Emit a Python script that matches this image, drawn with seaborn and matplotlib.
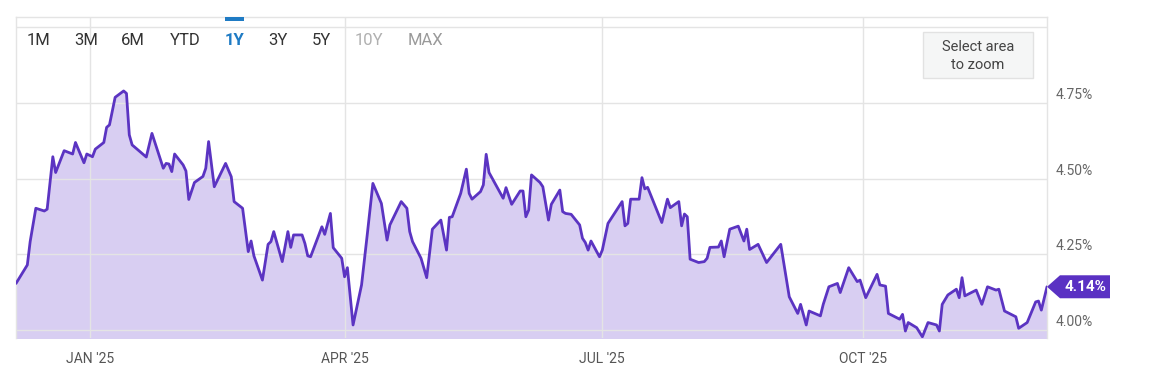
import matplotlib
matplotlib.use("Agg")
import matplotlib.pyplot as plt
import matplotlib.transforms as mtransforms
from matplotlib.patches import Polygon, Rectangle, FancyBboxPatch
import numpy as np
import pandas as pd
import seaborn as sns

# ---------------- data ----------------
dates = [
    "2024-12-06", "2024-12-10", "2024-12-11", "2024-12-13", "2024-12-16", "2024-12-17",
    "2024-12-19", "2024-12-20", "2024-12-23", "2024-12-26", "2024-12-27", "2024-12-30",
    "2024-12-31", "2025-01-02", "2025-01-03", "2025-01-06", "2025-01-07", "2025-01-08",
    "2025-01-10", "2025-01-13", "2025-01-14", "2025-01-15", "2025-01-16", "2025-01-21",
    "2025-01-23", "2025-01-27", "2025-01-28", "2025-01-29", "2025-01-30", "2025-01-31",
    "2025-02-03", "2025-02-04", "2025-02-05", "2025-02-07", "2025-02-10", "2025-02-11",
    "2025-02-12", "2025-02-14", "2025-02-18", "2025-02-20", "2025-02-21", "2025-02-24",
    "2025-02-26", "2025-02-27", "2025-02-28", "2025-03-03", "2025-03-05", "2025-03-06",
    "2025-03-07", "2025-03-10", "2025-03-12", "2025-03-13", "2025-03-14", "2025-03-17",
    "2025-03-18", "2025-03-19", "2025-03-20", "2025-03-24", "2025-03-25", "2025-03-27",
    "2025-03-28", "2025-03-31", "2025-04-01", "2025-04-02", "2025-04-04", "2025-04-07",
    "2025-04-09", "2025-04-11", "2025-04-14", "2025-04-16", "2025-04-17", "2025-04-21",
    "2025-04-23", "2025-04-24", "2025-04-25", "2025-04-28", "2025-04-30", "2025-05-02",
    "2025-05-05", "2025-05-07", "2025-05-08", "2025-05-09", "2025-05-12", "2025-05-14",
    "2025-05-15", "2025-05-16", "2025-05-19", "2025-05-20", "2025-05-21", "2025-05-22",
    "2025-05-27", "2025-05-28", "2025-05-30", "2025-06-02", "2025-06-03", "2025-06-04",
    "2025-06-05", "2025-06-06", "2025-06-09", "2025-06-10", "2025-06-12", "2025-06-13",
    "2025-06-16", "2025-06-17", "2025-06-18", "2025-06-20", "2025-06-23", "2025-06-24",
    "2025-06-25", "2025-06-26", "2025-06-27", "2025-06-30", "2025-07-01", "2025-07-03",
    "2025-07-08", "2025-07-09", "2025-07-10", "2025-07-11", "2025-07-14", "2025-07-15",
    "2025-07-16", "2025-07-17", "2025-07-22", "2025-07-24", "2025-07-25", "2025-07-28",
    "2025-07-29", "2025-07-30", "2025-07-31", "2025-08-01", "2025-08-04", "2025-08-06",
    "2025-08-07", "2025-08-08", "2025-08-11", "2025-08-12", "2025-08-13", "2025-08-15",
    "2025-08-18", "2025-08-20", "2025-08-21", "2025-08-22", "2025-08-25", "2025-08-28",
    "2025-09-02", "2025-09-05", "2025-09-08", "2025-09-09", "2025-09-11", "2025-09-12",
    "2025-09-16", "2025-09-17", "2025-09-19", "2025-09-22", "2025-09-23", "2025-09-26",
    "2025-09-29", "2025-09-30", "2025-10-02", "2025-10-06", "2025-10-07", "2025-10-09",
    "2025-10-10", "2025-10-14", "2025-10-15", "2025-10-16", "2025-10-17", "2025-10-20",
    "2025-10-22", "2025-10-24", "2025-10-27", "2025-10-28", "2025-10-29", "2025-10-31",
    "2025-11-03", "2025-11-04", "2025-11-05", "2025-11-06", "2025-11-10", "2025-11-12",
    "2025-11-14", "2025-11-17", "2025-11-18", "2025-11-20", "2025-11-24", "2025-11-25",
    "2025-11-28", "2025-12-01", "2025-12-02", "2025-12-03", "2025-12-05",
]
yields = [
    4.154, 4.215, 4.292, 4.402, 4.393, 4.399,
    4.572, 4.520, 4.592, 4.581, 4.619, 4.552,
    4.581, 4.572, 4.597, 4.619, 4.669, 4.677,
    4.768, 4.789, 4.781, 4.644, 4.611, 4.571,
    4.649, 4.534, 4.550, 4.548, 4.523, 4.581,
    4.545, 4.525, 4.431, 4.487, 4.507, 4.534,
    4.622, 4.473, 4.550, 4.506, 4.424, 4.402,
    4.259, 4.294, 4.245, 4.165, 4.283, 4.292,
    4.325, 4.226, 4.325, 4.273, 4.314, 4.314,
    4.286, 4.245, 4.242, 4.341, 4.316, 4.385,
    4.272, 4.237, 4.176, 4.206, 4.017, 4.149,
    4.314, 4.484, 4.418, 4.297, 4.347, 4.424,
    4.402, 4.325, 4.292, 4.237, 4.173, 4.333,
    4.363, 4.264, 4.372, 4.374, 4.451, 4.531,
    4.451, 4.432, 4.457, 4.479, 4.580, 4.520,
    4.435, 4.470, 4.415, 4.459, 4.459, 4.374,
    4.396, 4.512, 4.487, 4.473, 4.363, 4.415,
    4.462, 4.391, 4.385, 4.382, 4.347, 4.303,
    4.289, 4.264, 4.294, 4.242, 4.264, 4.352,
    4.424, 4.344, 4.352, 4.432, 4.432, 4.503,
    4.466, 4.471, 4.355, 4.432, 4.404, 4.424,
    4.344, 4.383, 4.374, 4.234, 4.223, 4.226,
    4.237, 4.273, 4.274, 4.294, 4.242, 4.333,
    4.343, 4.294, 4.333, 4.266, 4.283, 4.223,
    4.283, 4.110, 4.055, 4.085, 4.017, 4.063,
    4.047, 4.085, 4.143, 4.154, 4.124, 4.206,
    4.160, 4.165, 4.107, 4.184, 4.149, 4.145,
    4.055, 4.036, 4.052, 3.997, 4.025, 4.008,
    3.978, 4.025, 4.017, 3.997, 4.085, 4.116,
    4.135, 4.107, 4.173, 4.113, 4.132, 4.085,
    4.143, 4.132, 4.135, 4.063, 4.044, 4.006,
    4.025, 4.093, 4.096, 4.066, 4.143,
]
x_tick_dates = ["2025-01-01", "2025-04-01", "2025-07-01", "2025-10-01"]
x_tick_labels = ["JAN '25", "APR '25", "JUL '25", "OCT '25"]
y_ticks = [4.00, 4.25, 4.50, 4.75, 5.00]
y_tick_labels = ["4.00%", "4.25%", "4.50%", "4.75%", ""]
range_buttons = ["1M", "3M", "6M", "YTD", "1Y", "3Y", "5Y", "10Y", "MAX"]
last_label = "4.14%"

# ---------------- styling ----------------
sns.set_theme(style="white")
plt.rcParams["font.family"] = ["Roboto", "DejaVu Sans"]

LINE = "#5b34c2"
FILL = "#6a45d0"
GRID = "#e4e4e4"

W, H = 1160, 376
fig = plt.figure(figsize=(W / 100, H / 100), dpi=100)
ax = fig.add_axes([16 / W, (H - 338) / H, (1047 - 16) / W, (338 - 17) / H])

df = pd.DataFrame({"date": pd.to_datetime(dates), "yield": yields})

ax.fill_between(df["date"], df["yield"], 3.9, color=FILL, alpha=0.26, linewidth=0, zorder=1)
sns.lineplot(data=df, x="date", y="yield", ax=ax, color=LINE, linewidth=2.0, zorder=3)

ax.set_xlim(df["date"].iloc[0], df["date"].iloc[-1])
ax.set_ylim(3.974, 5.033)

ax.set_xticks(pd.to_datetime(x_tick_dates))
ax.set_xticklabels(x_tick_labels, fontsize=10, color="#555555")
ax.set_yticks(y_ticks)
ax.set_yticklabels([])
ax.tick_params(axis="both", length=0)
ax.tick_params(axis="x", pad=10)
ax.grid(True, color=GRID, linewidth=1.0, zorder=2)
ax.set_axisbelow(False)
for ln in ax.get_xgridlines() + ax.get_ygridlines():
    ln.set_zorder(2)
ax.set_xlabel("")
ax.set_ylabel("")

for side in ["top", "left", "right"]:
    ax.spines[side].set_color(GRID)
    ax.spines[side].set_linewidth(1.0)
ax.spines["bottom"].set_visible(False)

# right-side y labels, placed above their gridlines
blend = mtransforms.blended_transform_factory(ax.transAxes, ax.transData)
lab_tr = mtransforms.offset_copy(blend, fig=fig, x=9, y=8, units="dots")
for v, t in zip(y_ticks, y_tick_labels):
    if t:
        ax.text(1.0, v, t, transform=lab_tr, ha="left", va="center",
                fontsize=10, color="#666666", clip_on=False)

# range selector buttons
btn_x = [38.5, 86, 132.5, 185, 235, 277.5, 321.5, 369, 425.5]
for lbl, bx in zip(range_buttons, btn_x):
    color, weight = "#333333", "normal"
    if lbl == "1Y":
        color, weight = "#1f7bc4", "bold"
    elif lbl == "10Y":
        color = "#b0b0b0"
    elif lbl == "MAX":
        color = "#9a9a9a"
    fig.text(bx / W, 1 - 40.5 / H, lbl, ha="center", va="center",
             fontsize=12, color=color, fontweight=weight)
fig.patches.append(Rectangle((225 / W, 1 - 20.5 / H), 19 / W, 3.5 / H,
                             transform=fig.transFigure, facecolor="#1f7bc4",
                             edgecolor="none"))

# "Select area to zoom" box
fig.patches.append(Rectangle((923 / W, 1 - 78 / H), 110 / W, 46 / H,
                             transform=fig.transFigure, facecolor="#f5f6f6",
                             edgecolor="#e2e2e2", linewidth=1.0))
fig.text(978 / W, 1 - 47 / H, "Select area", ha="center", va="center",
         fontsize=10.5, color="#444444")
fig.text(978 / W, 1 - 65 / H, "to zoom", ha="center", va="center",
         fontsize=10.5, color="#444444")

# last-value tag
x_last = mdates_last = df["date"].iloc[-1]
y_last = df["yield"].iloc[-1]
import matplotlib.dates as mdates
anchor = mtransforms.ScaledTranslation(mdates.date2num(x_last), y_last, ax.transData)
tr = fig.dpi_scale_trans + anchor
tag = Polygon([(0.0, 0.0), (0.13, 0.115), (0.63, 0.115), (0.63, -0.115),
               (0.13, -0.115)], closed=True, transform=tr,
              facecolor="#5a31c3", edgecolor="none", clip_on=False, zorder=6)
fig.patches.append(tag)
fig.text(0.38, 0.0, last_label, transform=tr, ha="center", va="center",
         fontsize=11, fontweight="bold", color="white", zorder=7)

fig.savefig("out.png", dpi=100)
